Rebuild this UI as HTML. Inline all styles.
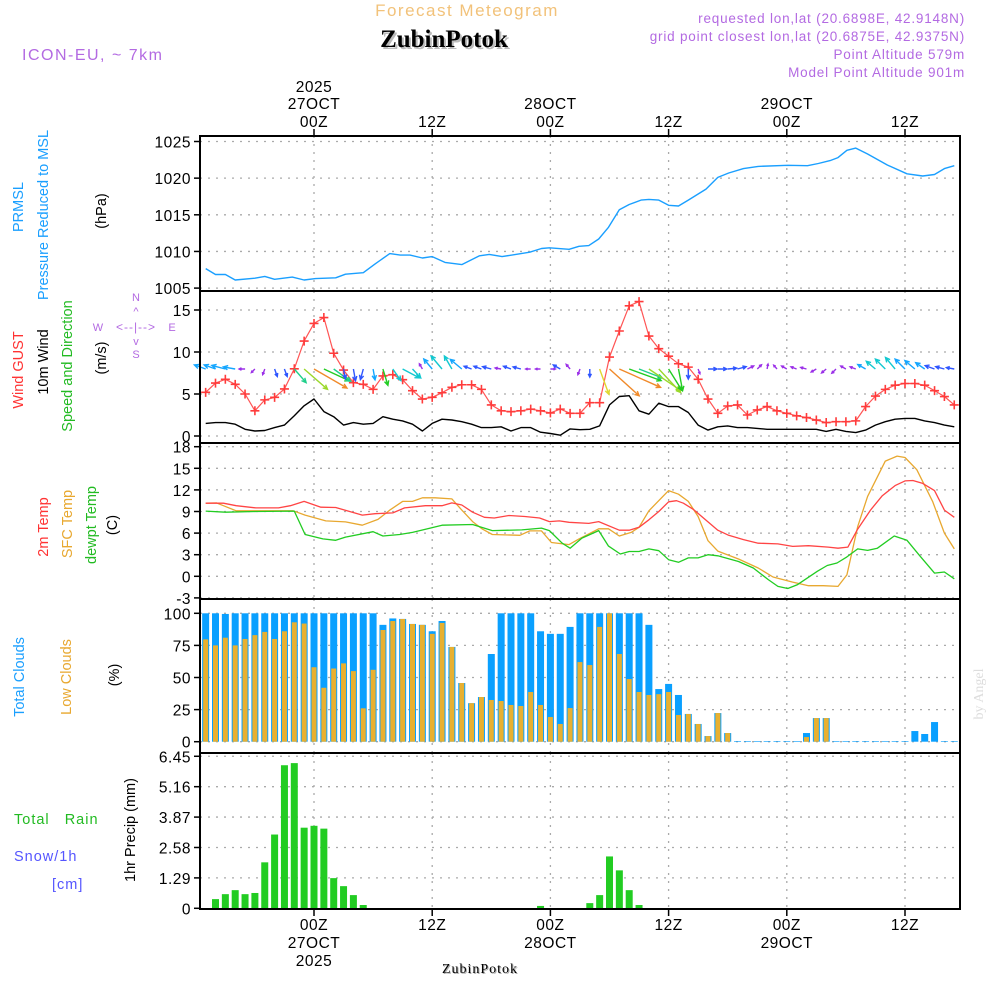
<!DOCTYPE html>
<html><head><meta charset="utf-8"><style>
html,body{margin:0;padding:0;background:#fff;}
svg{display:block;font-family:"Liberation Sans",sans-serif;}
</style></head><body>
<svg id="chart" width="1000" height="1000" viewBox="0 0 1000 1000" xmlns="http://www.w3.org/2000/svg">
<g id="g-grid"></g>
<g id="g-data"></g>
<g id="g-frame"></g>
<g id="g-text">
  <text x="467" y="16" text-anchor="middle" font-size="17" letter-spacing="1.5" fill="#f2c27a">Forecast Meteogram</text>
  <text x="446" y="49" text-anchor="middle" font-family="Liberation Serif, serif" font-weight="bold" font-size="25" fill="#bbb">ZubinPotok</text>
  <text x="444" y="47" text-anchor="middle" font-family="Liberation Serif, serif" font-weight="bold" font-size="25" fill="#000">ZubinPotok</text>
  <text x="22" y="60" font-size="16" letter-spacing="1.5" fill="#b36ae2">ICON-EU, ~ 7km</text>
  <g font-size="13.5" letter-spacing="0.8" fill="#b36ae2" text-anchor="end">
    <text x="965" y="23">requested lon,lat (20.6898E, 42.9148N)</text>
    <text x="965" y="41">grid point closest lon,lat (20.6875E, 42.9375N)</text>
    <text x="965" y="59">Point Altitude 579m</text>
    <text x="965" y="77">Model Point Altitude 901m</text>
  </g>
  <text x="481" y="974" text-anchor="middle" font-family="Liberation Serif, serif" font-size="14" letter-spacing="1" fill="#aaa">ZubinPotok</text>
  <text x="480" y="973" text-anchor="middle" font-family="Liberation Serif, serif" font-size="14" letter-spacing="1" fill="#000">ZubinPotok</text>
  <text transform="translate(983,694) rotate(-90)" text-anchor="middle" font-family="Liberation Serif, serif" font-size="14" fill="#ddd">by Angel</text>

  <g font-size="14.5">
    <text transform="translate(23,207) rotate(-90)" text-anchor="middle" fill="#1a9fff">PRMSL</text>
    <text transform="translate(48,215) rotate(-90)" text-anchor="middle" fill="#1a9fff">Pressure Reduced to MSL</text>
    <text transform="translate(106,211) rotate(-90)" text-anchor="middle" fill="#000">(hPa)</text>
  </g>
  <g font-size="14.5">
    <text transform="translate(23,370) rotate(-90)" text-anchor="middle" fill="#ff3333">Wind GUST</text>
    <text transform="translate(48,362) rotate(-90)" text-anchor="middle" fill="#000">10m Wind</text>
    <text transform="translate(72,366) rotate(-90)" text-anchor="middle" fill="#22bb22">Speed and Direction</text>
    <text transform="translate(106,358) rotate(-90)" text-anchor="middle" fill="#000">(m/s)</text>
    <g fill="#b36ae2" font-size="11" text-anchor="middle">
      <text x="136" y="301">N</text>
      <text x="136" y="315">^</text>
      <text x="136" y="331" font-size="12" letter-spacing="1">&lt;--|--&gt;</text>
      <text x="98" y="331">W</text>
      <text x="172" y="331">E</text>
      <text x="136" y="345">v</text>
      <text x="136" y="358">S</text>
    </g>
  </g>
  <g font-size="14.5">
    <text transform="translate(48,527) rotate(-90)" text-anchor="middle" fill="#ff3333">2m Temp</text>
    <text transform="translate(72,524) rotate(-90)" text-anchor="middle" fill="#e8a830">SFC Temp</text>
    <text transform="translate(96,525) rotate(-90)" text-anchor="middle" fill="#22bb22">dewpt Temp</text>
    <text transform="translate(117,525) rotate(-90)" text-anchor="middle" fill="#000">(C)</text>
  </g>
  <g font-size="14.5">
    <text transform="translate(24,677) rotate(-90)" text-anchor="middle" fill="#1a9fff">Total Clouds</text>
    <text transform="translate(71,677) rotate(-90)" text-anchor="middle" fill="#e8a830">Low Clouds</text>
    <text transform="translate(119,675) rotate(-90)" text-anchor="middle" fill="#000">(%)</text>
  </g>
  <g font-size="14.5" letter-spacing="1">
    <text x="14" y="824" fill="#22bb22" xml:space="preserve">Total   Rain</text>
    <text x="14" y="861" fill="#5555ff">Snow/1h</text>
    <text x="52" y="889" fill="#5555ff">[cm]</text>
    <text transform="translate(135,830) rotate(-90)" text-anchor="middle" fill="#000" letter-spacing="0">1hr Precip (mm)</text>
  </g>
</g>
</svg>
<script>
// ---- data (hourly from h=-11 to h=65, h relative to 27 OCT 00Z) ----
const startHour = -11;
const presHours = [-11,-10,-9,-8,-6,-5,-4,-2.2,-1,0.15,2.2,3.2,5,6.2,7.7,8.75,9.75,11,12,13.3,15,16.8,17.8,19.1,21.9,23.1,23.9,25.9,26.9,27.9,28.9,29.9,31,32,33.2,34,35,36,37,38,39.8,41,42.1,43.6,45.1,48.1,50.1,51.2,52.4,53.2,54.1,55,56.2,58.2,60.2,61.8,63,64,65];
const presVals = [1007.66,1006.85,1006.85,1006.1,1006.35,1006.6,1006.2,1006.5,1006.1,1006.3,1006.4,1006.9,1007.1,1008.3,1009.7,1009.5,1009.5,1009.1,1009.3,1008.5,1008.2,1009.4,1009.6,1009.3,1009.9,1010.4,1010.5,1010.3,1010.7,1010.8,1011.7,1013.3,1015.7,1016.4,1017,1017.1,1017,1016.3,1016.2,1017,1018.5,1020.1,1020.7,1021.3,1021.6,1021.75,1021.7,1022,1022.4,1022.8,1023.8,1024.1,1023.3,1021.8,1020.6,1020.3,1020.5,1021.3,1021.7];
const gustVals = [5.2,6.3,6.75,6.15,5.0,3.0,4.3,4.6,5.6,8.0,11.3,13.4,14.1,9.85,7.85,6.35,6.15,5.55,7.15,7.3,6.7,5.4,4.4,4.6,5.15,5.8,6.1,6.1,5.55,3.7,3.0,2.9,3.0,3.2,3.0,2.75,3.2,2.7,2.7,
  3.96,3.96,9.4,12.5,15.5,16.0,11.9,10.4,9.5,8.6,8.2,6.75,4.4,2.7,3.57,3.7,2.5,3.1,3.5,3.0,2.7,2.4,2.2,1.9,1.6,1.7,1.7,1.8,3.5,4.75,5.55,6.05,6.25,6.25,6.05,5.4,4.7,3.7];
const wind10Vals = [1.5,1.6,1.6,1.4,0.8,0.6,0.65,1.0,1.3,2.4,3.6,4.4,2.9,2.3,1.3,1.6,1.4,1.5,2.3,2.0,1.8,1.4,0.6,1.5,2.0,1.9,1.7,1.4,1.0,1.0,1.1,0.6,1.0,1.0,0.45,0.3,0.1,0.85,0.75,
  0.8,1.2,3.7,4.7,4.8,3.0,2.6,3.9,3.5,3.5,2.8,1.3,0.7,1.1,1.2,1.0,1.0,0.9,0.8,0.8,0.8,0.8,0.8,0.8,0.55,0.8,0.55,0.4,0.7,1.3,1.7,2.0,2.1,2.1,1.8,1.6,1.3,1.1];
const windDir = [290,290,285,280,270,225,200,160,160,139,131,120,115,126,170,170,195,170,163,145,118,137,330,320,320,330,310,290,290,285,280,290,285,270,270,90,300,320,200,
  180,160,132,114,110,111,124,137,148,169,180,160,90,90,85,75,65,45,10,320,300,290,285,240,230,225,300,290,300,310,315,320,315,310,305,290,285,280];
const windLen = [12,12,14,12,6,5,6,8,8,18,31,38,28,21,10,12,11,11,17,14,19,12,6,13,17,15,15,8,8,9,6,8,8,5,5,5,8,6,6,
  8,27,40,45,34,25,38,32,25,22,10,5,9,9,9,9,7,6,5,5,6,6,6,6,6,6,6,6,9,12,14,15,14,13,11,10,9,8];
const windCat = [2,2,2,2,0,0,0,1,1,4,6,8,5,4,1,1,1,2,5,3,3,3,0,2,3,3,2,1,1,1,0,1,1,0,0,0,1,0,0,
  1,7,8,8,5,4,6,6,5,5,1,0,1,1,1,1,0,0,0,0,0,0,0,0,0,0,0,0,2,3,3,3,2,2,2,1,1,1];
const t2mHours = [-11,-9.2,-7.9,-5.9,-3.6,-2.4,-1,0.7,2.2,4.9,6.2,8,9.2,11.3,13,14,15,16.1,17.3,18.3,19.8,21.4,22.9,23.9,24.9,25.9,27.9,28.9,31,32,33,34,35,36,36.8,37.5,38.5,40,41,42.1,43.6,45.1,47.1,48.6,50.2,52.2,53.2,54.2,55.2,56.5,57.7,59,60,60.8,61.8,63,64,65];
const t2mVals = [10.15,10.15,9.8,9.5,9.5,9.8,10.4,9.6,9.55,8.5,8.7,8.8,9.5,9.8,9.8,10.2,9.9,8.9,8.2,8.1,8.45,8.3,8.1,7.6,7.7,7.5,7.35,7.6,6.4,6.4,6.8,7.85,9.0,10.35,10.5,10.15,9.3,7.55,6.4,5.7,5.1,4.6,4.5,4.15,4.25,4.05,3.9,4.05,6.55,9.2,11.2,12.6,13.25,13.3,12.9,11.9,9.2,8.2];
const sfcHours = [-11,-9.9,-9.2,-7.9,-5.9,-2.1,-0.9,1.2,3.2,4.9,6.5,7.7,9,10,11,12.3,14,15,16.1,17.1,18.1,20.9,21.9,23.1,24.1,25.9,26.9,28.9,29.9,31,32.2,33,34,36,37,38,39,40,41,43.1,45.1,46.6,48.6,50.2,51.7,53.2,54.1,55.2,56.2,58,59.2,60,61.2,62.8,64,65];
const sfcVals = [10.15,10.2,9.8,9.1,9.1,9.1,8.5,7.7,7.55,7.1,7.9,9.2,10.4,10.4,10.9,10.9,10.75,9.2,7.6,6.55,5.8,5.7,6.3,6.3,4.7,4.4,5.2,6.6,6.6,5.6,6.1,6.8,9.1,11.9,11.4,10.4,8.3,4.95,3.5,2.4,1.15,-0.1,-0.8,-1.3,-1.3,-1.4,0.2,6.9,11.1,16,16.7,16.5,14.8,10.4,6,3.8];
const dewHours = [-11,-9,-5.9,-2,-0.9,0.9,2.2,3.2,6,7,8.7,10,11.8,13,16.1,18.1,21.1,23.1,23.9,25.2,26,27.2,28.9,29.9,31.1,32,33,34,35,36,37,38,39,40,41,43.1,44.6,46.1,47.1,48.1,49.1,51.1,52.1,53.1,54.1,55.2,56.2,57.2,58.9,60.2,61.5,63,64,65];
const dewVals = [9.05,8.9,9.0,9.05,5.8,5.2,5.0,5.45,6.2,5.6,5.8,6.1,6.7,7.1,7.2,6.35,6.45,6.7,6.35,4.6,3.9,5.3,6.35,4.2,3.1,3.45,3.45,3.8,3.55,2.3,1.95,2.55,2.55,3.0,2.85,2.05,1.15,-0.45,-1.4,-1.7,-1.15,0.7,1.5,1.85,2.7,3.8,3.6,3.9,5.6,5.0,2.85,0.45,0.6,-0.35];
const totalCloud = [100,100,99.5,100,100,100,100,100,100,100,100,100,100,100,100,100,100,100,91,96,95.6,91.7,91,86,94,73.8,45.7,30,34.8,68.3,100,100,100,100,86,84,84,89.4,100,100,100,100,100,100,100,91,41,45,36.4,21.6,13.8,4.4,22.3,6.75,0.5,0.5,0.5,0.5,0.5,0.5,0.5,6.75,18.4,18.4,0.5,0.5,0.5,0.5,0.5,0.5,0.5,0.5,8.3,6,15.3,0.5,0.5];
const lowCloud = [79.7,75,81,75,80,83,85.5,80,86,93,92,58,42,57,61,55,26,56,87,94,95.6,91.7,91,84,92.5,73.8,45.7,30,34.8,32.5,31.7,28.6,27.8,38.7,28.6,19.2,13.8,26.2,62,59.7,89.4,100,68.3,48.8,38.7,36.4,37,38.7,20.8,21.6,13.8,4.4,22.3,6.75,0,0,0,0,0,0,0,3.6,18.4,18.4,0,0,0,0,0,0,0,0,0,0,0,0,0];
const precipVals = [0,0.39,0.6,0.77,0.6,0.65,1.95,3.13,6.07,6.16,3.42,3.5,3.38,1.28,0.94,0.56,0.14,0,0,0,0,0,0,0,0,0,0,0,0,0,0,0,0,0,0.1,0,0,0,0,0.22,0.56,2.2,1.61,0.77,0.14,0,0,0,0,0,0,0,0,0,0,0,0,0,0,0,0,0,0,0,0,0,0,0,0,0,0,0,0,0,0,0,0];
const presTicks = [1005,1010,1015,1020,1025];
const windTicks = [0,5,10,15];
const tempTicks = [-3,0,3,6,9,12,15,18];
const cloudTicks = [0,25,50,75,100];
const precipTicks = ["0","1.29","2.58","3.87","5.16","6.45"];
const timeTickHours = [0,12,24,36,48,60];
const timeTickLabels = ["00Z","12Z","00Z","12Z","00Z","12Z"];
const dateHours = [0,24,48];
const dateLabels = ["27OCT","28OCT","29OCT"];

// ---- scales ----
const X0 = 200, X1 = 960;
const xH = h => 314 + 9.85*h;
const yP = p => 141.5 + (1025-p)*7.33;
const yW = v => 436 - 8.4*v;
const yT = t => 446.7 + (18-t)*7.2;
const yC = c => 741.7 - 1.284*c;
const yR = r => 908.3 - 23.57*r;
const panels = [[136,291],[291,443],[443,599],[599,753],[753,909]];
const arrowColors = ["#9b30e8","#2f56ff","#14a6ff","#12c8d0","#1fcf8a","#22cc22","#9ad82a","#e0d830","#f08a2a"];

const NS = "http://www.w3.org/2000/svg";
const gGrid = document.getElementById('g-grid');
const gData = document.getElementById('g-data');
const gFrame = document.getElementById('g-frame');
const gText = document.getElementById('g-text');
function mk(tag, attrs, parent){ const e=document.createElementNS(NS,tag); for(const k in attrs) e.setAttribute(k,attrs[k]); parent.appendChild(e); return e; }

// ---- grid ----
panels.forEach((p,i)=>{
  timeTickHours.forEach(h=>{
    const l = mk('line',{x1:xH(h),x2:xH(h),y1:p[0],y2:p[1],stroke:'#aaa','stroke-width':1.3,'stroke-dasharray':'2,6'},gGrid);
    
    
  });
});
function hGrid(vals, yf, p){
  vals.forEach(v=>{
    const y = yf(parseFloat(v));
    if (y>p[0]+2 && y<p[1]-1){
      const l = mk('line',{x1:X0,x2:X1,y1:y,y2:y,stroke:'#aaa','stroke-width':1.3,'stroke-dasharray':'2,6'},gGrid);
      
      
    }
    const tk = mk('line',{x1:194,x2:X0,y1:y,y2:y,stroke:'#000','stroke-width':1.5},gFrame);
    
    
    const t = mk('text',{x:191,y:y+6,'text-anchor':'end','font-size':15.5,'letter-spacing':'0.5',fill:'#000'},gText);
    t.textContent = String(v);
    
    
  });
}
hGrid(presTicks, yP, panels[0]);
hGrid(windTicks, yW, panels[1]);
hGrid(tempTicks, yT, panels[2]);
hGrid(cloudTicks, yC, panels[3]);
hGrid(precipTicks, yR, panels[4]);

// ---- pressure ----
function polyline(hs, vs, yf, color, w, name){
  const pts = hs.map((h,i)=>xH(h).toFixed(1)+','+yf(vs[i]).toFixed(1)).join(' ');
  const pl = mk('polyline',{points:pts,fill:'none',stroke:color,'stroke-width':w,'stroke-linejoin':'round'},gData);
  
  
}
polyline(presHours, presVals, yP, '#1a9fff', 1.4, 'pressure-line');

// ---- wind ----
const hourly = gustVals.map((_,i)=>startHour+i);
polyline(hourly, wind10Vals, yW, '#000', 1.4, 'wind10-line');
polyline(hourly, gustVals, yW, '#ff5555', 1.2, 'gust-line');
gustVals.forEach((v,i)=>{
  const x=xH(startHour+i), y=yW(v);
  const c = mk('path',{d:`M${x-4.5},${y}H${x+4.5}M${x},${y-4.5}V${y+4.5}`,stroke:'#ff3b3b','stroke-width':1.6},gData);
  
  
});
windDir.forEach((d,i)=>{
  const x=xH(startHour+i), y=369;
  const r = d*Math.PI/180, L=windLen[i];
  const x2 = x + L*Math.sin(r), y2 = y - L*Math.cos(r);
  const hl = Math.min(5, L*0.45);
  const a1 = r + Math.PI - 0.45, a2 = r + Math.PI + 0.45;
  const col = arrowColors[windCat[i]];
  const d2 = `M${x.toFixed(1)},${y}L${x2.toFixed(1)},${y2.toFixed(1)}M${(x2+hl*Math.sin(a1)).toFixed(1)},${(y2-hl*Math.cos(a1)).toFixed(1)}L${x2.toFixed(1)},${y2.toFixed(1)}L${(x2+hl*Math.sin(a2)).toFixed(1)},${(y2-hl*Math.cos(a2)).toFixed(1)}`;
  const a = mk('path',{d:d2,fill:'none',stroke:col,'stroke-width':1.4},gData);
  
  
});

// ---- temperature ----
polyline(sfcHours, sfcVals, yT, '#e8a830', 1.3, 'sfc-temp-line');
polyline(t2mHours, t2mVals, yT, '#ff4444', 1.3, 't2m-line');
polyline(dewHours, dewVals, yT, '#22cc22', 1.3, 'dewpoint-line');

// ---- clouds ----
totalCloud.forEach((v,i)=>{
  const x=xH(startHour+i);
  const y=yC(v);
  const b = mk('rect',{x:Math.max(X0,x-3.5),y:y,width:Math.min(7,x+3.5-X0),height:yC(0)-y,fill:'#0aa0ff'},gData);
  
  
  const lv = lowCloud[i];
  if (lv>0){
    const y2=yC(lv);
    const o = mk('rect',{x:Math.max(X0,x-2.5),y:y2,width:Math.min(5,x+2.5-X0),height:yC(0)-y2,fill:'#e8b030'},gData);
    
    
  }
});

// ---- precip ----
precipVals.forEach((v,i)=>{
  if (v<=0) return;
  const x=xH(startHour+i), y=yR(v);
  const b = mk('rect',{x:x-3.5,y:y,width:7,height:yR(0)-y,fill:'#22cc22'},gData);
  
  
});

// ---- frames ----
panels.forEach(p=>{
  const r = mk('rect',{x:X0,y:p[0],width:X1-X0,height:p[1]-p[0],fill:'none',stroke:'#000','stroke-width':2},gFrame);
  
  
});
timeTickHours.forEach((h,i)=>{
  const x=xH(h);
  const t1 = mk('line',{x1:x,x2:x,y1:129,y2:136,stroke:'#000','stroke-width':1.5},gFrame);
  
  
  const t2 = mk('line',{x1:x,x2:x,y1:909,y2:916,stroke:'#000','stroke-width':1.5},gFrame);
  
  
  const a = mk('text',{x:x,y:127,'text-anchor':'middle','font-size':15.5,'letter-spacing':'0.5'},gText);
  a.textContent = timeTickLabels[i];
  
  
  const b = mk('text',{x:x,y:930,'text-anchor':'middle','font-size':15.5,'letter-spacing':'0.5'},gText);
  b.textContent = timeTickLabels[i];
  
  
});
dateHours.forEach((h,i)=>{
  const x=xH(h);
  const a = mk('text',{x:x,y:109,'text-anchor':'middle','font-size':15.5,'letter-spacing':'0.5'},gText);
  a.textContent = dateLabels[i];
  
  
  const b = mk('text',{x:x,y:948,'text-anchor':'middle','font-size':15.5,'letter-spacing':'0.5'},gText);
  b.textContent = dateLabels[i];
  
  
});
const yr1 = mk('text',{x:xH(0),y:92,'text-anchor':'middle','font-size':15.5,'letter-spacing':'0.5'},gText);
yr1.textContent='2025';


const yr2 = mk('text',{x:xH(0),y:966,'text-anchor':'middle','font-size':15.5,'letter-spacing':'0.5'},gText);
yr2.textContent='2025';


</script>
</body></html>
